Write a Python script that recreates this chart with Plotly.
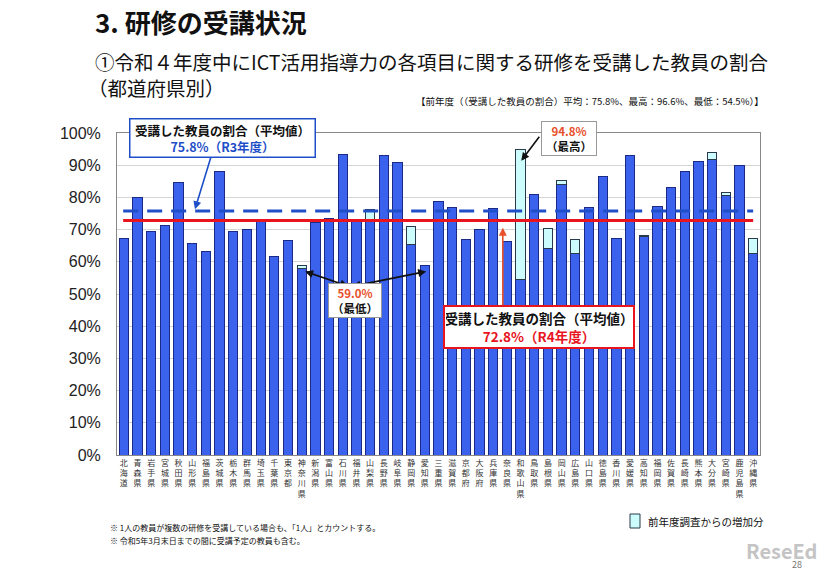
import plotly.graph_objects as go

prefs = ["北海道","青森県","岩手県","宮城県","秋田県","山形県","福島県","茨城県","栃木県","群馬県",
         "埼玉県","千葉県","東京都","神奈川県","新潟県","富山県","石川県","福井県","山梨県","長野県",
         "岐阜県","静岡県","愛知県","三重県","滋賀県","京都府","大阪府","兵庫県","奈良県","和歌山県",
         "鳥取県","島根県","岡山県","広島県","山口県","徳島県","香川県","愛媛県","高知県","福岡県",
         "佐賀県","長崎県","熊本県","大分県","宮崎県","鹿児島県","沖縄県"]

base_values = [67.2, 80.0, 69.4, 71.2, 84.6, 65.7, 63.3, 88.1, 69.5, 70.0,
               72.9, 61.8, 66.6, 58.0, 72.2, 73.4, 93.2, 72.9, 72.5, 93.0,
               90.8, 65.5, 59.0, 78.8, 76.8, 67.0, 70.1, 76.5, 66.4, 54.5,
               80.8, 64.2, 83.9, 62.6, 76.8, 86.4, 67.1, 93.1, 67.9, 77.1,
               83.0, 87.9, 91.2, 91.8, 80.6, 90.0, 62.5]

increase_values = [0, 0, 0, 0, 0, 0, 0, 0, 0, 0,
                   0, 0, 0, 1.0, 0, 0, 0, 0, 3.8, 0,
                   0, 5.5, 0, 0, 0, 0, 0, 0, 0, 40.3,
                   0, 6.2, 1.5, 4.2, 0, 0, 0, 0, 0.3, 0,
                   0, 0, 0, 2.2, 1.0, 0, 4.8]

avg_r3 = 75.8
avg_r4 = 72.8
max_r4 = 94.8
min_r4 = 59.0

y_ticks = [0, 10, 20, 30, 40, 50, 60, 70, 80, 90, 100]
y_tick_labels = [f"{v}%" for v in y_ticks]

JP = "Noto Sans CJK JP"
BLUE_BAR = "#3b62ec"
BLUE_EDGE = "#1b2a86"
CYAN = "#ccfcfc"

idx = list(range(len(prefs)))
tick_text = ["<br>".join(list(p)) for p in prefs]
inc_plot = [v if v > 0 else None for v in increase_values]

fig = go.Figure()
fig.add_trace(go.Bar(x=idx, y=base_values, marker=dict(color=BLUE_BAR, line=dict(color=BLUE_EDGE, width=1)),
                     showlegend=False))
fig.add_trace(go.Bar(x=idx, y=inc_plot, marker=dict(color=CYAN, line=dict(color="#2a3a4a", width=1)),
                     showlegend=False))

fig.update_layout(
    width=826, height=572,
    margin=dict(l=117, r=66, t=133, b=117),
    barmode="stack", bargap=0.32,
    plot_bgcolor="white", paper_bgcolor="white",
    font=dict(family=JP, color="#222"),
)
fig.update_xaxes(range=[-0.5, len(prefs) - 0.5], tickvals=idx, ticktext=tick_text,
                 tickfont=dict(size=8, family=JP, color="#333"), ticks="",
                 showline=True, linecolor="#888", linewidth=1, mirror=True, showgrid=False)
fig.update_yaxes(range=[0, 100], tickvals=y_ticks, ticktext=y_tick_labels,
                 tickfont=dict(size=16, family="Liberation Sans, Arial", color="#222"),
                 ticks="", ticklabelstandoff=12,
                 showline=True, linecolor="#888", linewidth=1, mirror=True,
                 showgrid=True, gridcolor="#d4d4d4", gridwidth=1, zeroline=False)

# average lines
fig.add_shape(type="line", xref="x", yref="y", x0=-0.05, x1=46.0, y0=avg_r3, y1=avg_r3,
              line=dict(color="#1f4fc8", width=3, dash="15px,9px"), layer="above")
fig.add_shape(type="line", xref="x", yref="y", x0=-0.05, x1=46.0, y0=avg_r4, y1=avg_r4,
              line=dict(color="#e8141e", width=3), layer="above")

# arrows
def arrow(x, y, ax, ay, color, both=False):
    fig.add_annotation(x=x, y=y, ax=ax, ay=ay, xref="x", yref="y", axref="x", ayref="y",
                       text="", showarrow=True, arrowhead=2, arrowsize=1, arrowwidth=1.6,
                       arrowcolor=color, arrowside="end+start" if both else "end",
                       startarrowhead=2)

arrow(5.2, 76.3, 6.45, 93.7, "#1f4fc8")
arrow(29.05, 91.4, 30.45, 99.3, "#111")
arrow(13.25, 57.0, 16.5, 52.3, "#111", both=True)
arrow(22.1, 57.0, 16.6, 52.3, "#111", both=True)
arrow(27.7, 70.6, 27.7, 45.0, "#e8502a")

# boxes
fig.add_annotation(x=7.2, y=98.4, xref="x", yref="y", showarrow=False,
                   text=f"<b>受講した教員の割合（平均値）</b><br><b><span style='color:#1f4fc8'>{avg_r3}%（R3年度）</span></b>",
                   font=dict(size=12.5, family=JP, color="#111"), bgcolor="white",
                   bordercolor="#1f4fc8", borderwidth=1.5, borderpad=1, width=182)
fig.add_annotation(x=32.55, y=98.4, xref="x", yref="y", showarrow=False,
                   text=f"<b><span style='color:#e8502a'>{max_r4}%</span></b><br><b>（最高）</b>",
                   font=dict(size=11.5, family=JP, color="#111"), bgcolor="white",
                   bordercolor="#999", borderwidth=1, borderpad=1, width=52)
fig.add_annotation(x=16.9, y=48.1, xref="x", yref="y", showarrow=False,
                   text=f"<b><span style='color:#e8502a'>{min_r4}%</span></b><br><b>（最低）</b>",
                   font=dict(size=11.5, family=JP, color="#111"), bgcolor="white",
                   bordercolor="#999", borderwidth=1, borderpad=1, width=50)
fig.add_annotation(x=30.35, y=39.8, xref="x", yref="y", showarrow=False,
                   text=f"<b>受講した教員の割合（平均値）</b><br><b><span style='color:#e8141e'>{avg_r4}%（R4年度）</span></b>",
                   font=dict(size=13.5, family=JP, color="#111"), bgcolor="white",
                   bordercolor="#e8141e", borderwidth=2, borderpad=1, width=186)

# titles
def ptext(text, px, py, size, anchor="left", bold=False, color="#111"):
    fig.add_annotation(x=(px - 117) / 643, y=(455 - py) / 322, xref="paper", yref="paper",
                       text=f"<b>{text}</b>" if bold else text, showarrow=False,
                       xanchor=anchor, yanchor="middle", font=dict(size=size, family=JP, color=color))

ptext("3. 研修の受講状況", 93, 22, 26, bold=True)
ptext("①令和４年度中にICT活用指導力の各項目に関する研修を受講した教員の割合", 93, 62, 19.5)
ptext("（都道府県別）", 86, 87, 19.5)
ptext("【前年度（（受講した教員の割合）平均：75.8%、最高：96.6%、最低：54.5%）】", 766, 101, 9.5, anchor="right")
ptext("※ 1人の教員が複数の研修を受講している場合も、「1人」とカウントする。", 108, 527, 8)
ptext("※ 令和5年3月末日までの間に受講予定の教員も含む。", 108, 540, 8)
ptext("前年度調査からの増加分", 646, 521, 10.5)
ptext("ReseEd", 744, 550, 20, bold=True, color="#c4c4c4")
ptext("28", 790, 564, 9, color="#777")

# legend swatch
fig.add_shape(type="rect", xref="paper", yref="paper",
              x0=(630 - 117) / 643, x1=(640 - 117) / 643, y0=(455 - 528) / 322, y1=(455 - 514) / 322,
              fillcolor=CYAN, line=dict(color="#2a3a4a", width=1))

fig.write_html("out.html", config={"displayModeBar": False},
               post_script="document.body.style.margin='0';document.body.style.padding='0';document.body.style.overflow='hidden';")
